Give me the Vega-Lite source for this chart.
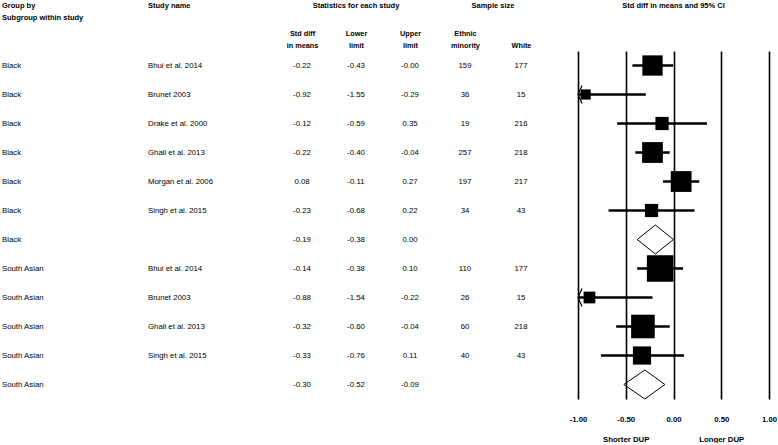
{
  "$schema": "https://vega.github.io/schema/vega-lite/v6.json",
  "background": "white",
  "padding": {"left": 2, "top": 1, "right": 0, "bottom": 0},
  "bounds": "flush",
  "spacing": 0,
  "config": {
    "locale": {"number": {"decimal": ".", "thousands": ",", "grouping": [3], "currency": ["$", ""], "minus": "-"}},
    "view": {"stroke": null},
    "font": "Liberation Sans",
    "text": {"font": "Liberation Sans", "fontSize": 7.8, "color": "black", "baseline": "middle"},
    "title": {"font": "Liberation Sans", "fontSize": 7.5, "fontWeight": "bold", "color": "black", "lineHeight": 12, "frame": "group"},
    "axis": {"labelFont": "Liberation Sans", "labelColor": "black", "labelFontWeight": "bold", "labelFontSize": 7.3, "labelLineHeight": 12, "domain": false, "ticks": false, "title": null, "labelOverlap": false, "labelFlush": false, "labelBound": false}
  },
  "datasets": {
    "studies": [
      {"id": 1, "group": "Black", "study": "Bhui et al. 2014", "est": -0.22, "lower": -0.43, "upper": -0.004, "n_eth": 159, "n_white": 177, "weight": 23.8},
      {"id": 2, "group": "Black", "study": "Brunet 2003", "est": -0.92, "lower": -1.55, "upper": -0.29, "n_eth": 36, "n_white": 15, "weight": 6.0},
      {"id": 3, "group": "Black", "study": "Drake et al. 2000", "est": -0.12, "lower": -0.59, "upper": 0.35, "n_eth": 19, "n_white": 216, "weight": 10.1},
      {"id": 4, "group": "Black", "study": "Ghali et al. 2013", "est": -0.22, "lower": -0.40, "upper": -0.04, "n_eth": 257, "n_white": 218, "weight": 25.0},
      {"id": 5, "group": "Black", "study": "Morgan et al. 2006", "est": 0.08, "lower": -0.11, "upper": 0.27, "n_eth": 197, "n_white": 217, "weight": 25.0},
      {"id": 6, "group": "Black", "study": "Singh et al. 2015", "est": -0.23, "lower": -0.68, "upper": 0.22, "n_eth": 34, "n_white": 43, "weight": 10.1},
      {"id": 7, "group": "Black", "study": "", "est": -0.19, "lower": -0.38, "upper": 0.00},
      {"id": 8, "group": "South Asian", "study": "Bhui et al. 2014", "est": -0.14, "lower": -0.38, "upper": 0.10, "n_eth": 110, "n_white": 177, "weight": 40.7},
      {"id": 9, "group": "South Asian", "study": "Brunet 2003", "est": -0.88, "lower": -1.54, "upper": -0.22, "n_eth": 26, "n_white": 15, "weight": 8.0},
      {"id": 10, "group": "South Asian", "study": "Ghali et al. 2013", "est": -0.32, "lower": -0.60, "upper": -0.04, "n_eth": 60, "n_white": 218, "weight": 32.2},
      {"id": 11, "group": "South Asian", "study": "Singh et al. 2015", "est": -0.33, "lower": -0.76, "upper": 0.11, "n_eth": 40, "n_white": 43, "weight": 19.1},
      {"id": 12, "group": "South Asian", "study": "", "est": -0.30, "lower": -0.52, "upper": -0.09}
    ],
    "diamonds": [
      {"id": 7, "k": 1, "vx": -0.38, "vpos": "mid"},
      {"id": 7, "k": 2, "vx": -0.19, "vpos": "top"},
      {"id": 7, "k": 3, "vx": 0.00, "vpos": "mid"},
      {"id": 7, "k": 4, "vx": -0.19, "vpos": "bot"},
      {"id": 7, "k": 5, "vx": -0.38, "vpos": "mid"},
      {"id": 12, "k": 1, "vx": -0.52, "vpos": "mid"},
      {"id": 12, "k": 2, "vx": -0.30, "vpos": "top"},
      {"id": 12, "k": 3, "vx": -0.09, "vpos": "mid"},
      {"id": 12, "k": 4, "vx": -0.30, "vpos": "bot"},
      {"id": 12, "k": 5, "vx": -0.52, "vpos": "mid"}
    ],
    "empty": []
  },
  "hconcat": [
    {
      "width": 146, "height": 348,
      "data": {"name": "studies"},
      "title": {"text": ["Group by", "Subgroup within study"], "anchor": "start", "offset": 30},
      "mark": {"type": "text", "align": "left"},
      "encoding": {
        "x": {"value": 0},
        "y": {"field": "id", "type": "ordinal", "axis": null, "scale": {"domain": [1,2,3,4,5,6,7,8,9,10,11,12], "paddingInner": 0, "paddingOuter": 0}},
        "text": {"field": "group", "type": "nominal"}
      }
    },
    {
      "width": 127, "height": 348,
      "data": {"name": "studies"},
      "title": {"text": ["Study name", ""], "anchor": "start", "offset": 30},
      "mark": {"type": "text", "align": "left"},
      "encoding": {
        "x": {"value": 0},
        "y": {"field": "id", "type": "ordinal", "axis": null, "scale": {"domain": [1,2,3,4,5,6,7,8,9,10,11,12], "paddingInner": 0, "paddingOuter": 0}},
        "text": {"field": "study", "type": "nominal"}
      }
    },
    {
      "width": 162, "height": 348,
      "data": {"name": "studies"},
      "transform": [{"fold": ["est", "lower", "upper"], "as": ["stat", "val"]}],
      "title": {"text": ["Statistics for each study", ""], "anchor": "middle", "offset": 8},
      "mark": {"type": "text", "align": "center"},
      "encoding": {
        "x": {"field": "stat", "type": "nominal", "sort": ["est", "lower", "upper"], "scale": {"paddingInner": 0, "paddingOuter": 0},
              "axis": {"orient": "top", "labelAngle": 0, "labelPadding": 14, "labelBaseline": "bottom",
                       "labelExpr": "datum.value == 'est' ? ['Std diff', 'in means'] : datum.value == 'lower' ? ['Lower', 'limit'] : ['Upper', 'limit']"}},
        "y": {"field": "id", "type": "ordinal", "axis": null, "scale": {"domain": [1,2,3,4,5,6,7,8,9,10,11,12], "paddingInner": 0, "paddingOuter": 0}},
        "text": {"condition": {"test": "datum.val < 0", "value": {"expr": "'-' + format(-datum.val, '.2f')"}}, "field": "val", "type": "quantitative", "format": ".2f"}
      }
    },
    {
      "width": 112, "height": 348,
      "data": {"name": "studies"},
      "transform": [{"filter": "isValid(datum.n_eth)"}, {"fold": ["n_eth", "n_white"], "as": ["grp", "n"]}],
      "title": {"text": ["Sample size", ""], "anchor": "middle", "offset": 8},
      "mark": {"type": "text", "align": "center"},
      "encoding": {
        "x": {"field": "grp", "type": "nominal", "sort": ["n_eth", "n_white"], "scale": {"paddingInner": 0, "paddingOuter": 0},
              "axis": {"orient": "top", "labelAngle": 0, "labelPadding": 14, "labelBaseline": "bottom",
                       "labelExpr": "datum.value == 'n_eth' ? ['Ethnic', 'minority'] : ['', 'White']"}},
        "y": {"field": "id", "type": "ordinal", "axis": null, "scale": {"domain": [1,2,3,4,5,6,7,8,9,10,11,12], "paddingInner": 0, "paddingOuter": 0}},
        "text": {"field": "n", "type": "nominal"}
      }
    },
    {
      "width": 29, "height": 348,
      "data": {"name": "empty"},
      "mark": "text",
      "encoding": {}
    },
    {
      "width": 191, "height": 348,
      "title": {"text": ["Std diff in means and 95% CI", ""], "anchor": "middle", "offset": 30},
      "encoding": {
        "y": {"field": "id", "type": "ordinal", "axis": null, "scale": {"domain": [1,2,3,4,5,6,7,8,9,10,11,12], "paddingInner": 0, "paddingOuter": 0}}
      },
      "layer": [
        {
          "data": {"name": "studies"},
          "transform": [{"filter": "isValid(datum.weight)"}],
          "mark": {"type": "rule", "strokeWidth": 2.5, "color": "black"},
          "encoding": {
            "x": {"field": "lower", "type": "quantitative",
                  "scale": {"domain": [-1, 1], "clamp": true, "nice": false, "zero": false},
                  "axis": {"orient": "bottom", "values": [-1, -0.5, 0, 0.5, 1], "format": ".2f", "grid": true, "gridColor": "black", "gridWidth": 1.6, "gridOpacity": 1,
                           "labelPadding": 16, "labelFontSize": 7.8, "labelLineHeight": 20, "labelBaseline": "top",
                           "labelExpr": "datum.value == -0.5 ? [datum.label, 'Shorter DUP'] : datum.value == 0.5 ? [datum.label, 'Longer DUP'] : datum.label"}},
            "x2": {"field": "upper"}
          }
        },
        {
          "data": {"name": "studies"},
          "transform": [{"filter": "isValid(datum.weight)"}],
          "mark": {"type": "square", "filled": true, "color": "black", "opacity": 1},
          "encoding": {
            "x": {"field": "est", "type": "quantitative"},
            "size": {"field": "weight", "type": "quantitative", "scale": {"domain": [0, 50], "range": [0, 865], "zero": true}, "legend": null}
          }
        },
        {
          "data": {"name": "studies"},
          "transform": [{"filter": "datum.lower < -1"}],
          "mark": {"type": "point", "shape": "M0.45,-1L0,0L0.45,1", "filled": false, "color": "black", "strokeWidth": 1.2, "size": 324, "opacity": 1},
          "encoding": {
            "x": {"field": "lower", "type": "quantitative"}
          }
        },
        {
          "data": {"name": "diamonds"},
          "mark": {"type": "line", "color": "black", "strokeWidth": 1},
          "encoding": {
            "x": {"field": "vx", "type": "quantitative"},
            "yOffset": {"field": "vpos", "type": "nominal", "scale": {"type": "point", "domain": ["top", "mid", "bot"], "padding": 0}},
            "detail": {"field": "id"},
            "order": {"field": "k", "type": "quantitative"}
          }
        }
      ]
    }
  ]
}
